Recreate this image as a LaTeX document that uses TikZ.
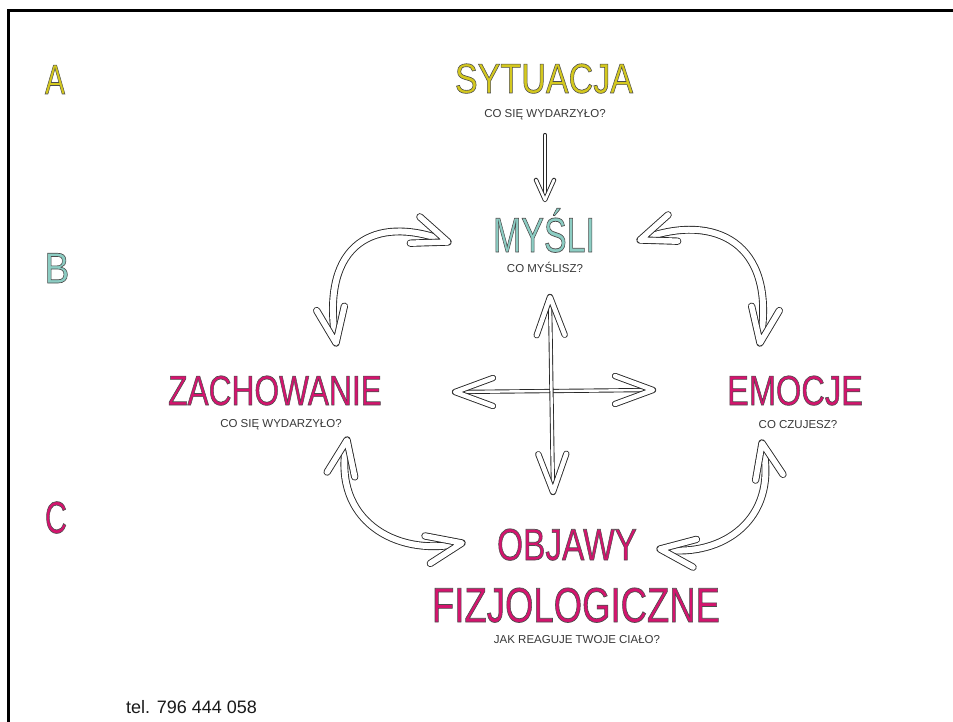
\documentclass[tikz,border=0pt]{standalone}
\usepackage{fontspec}
\setmainfont{Liberation Sans}
\usepackage{graphicx}
\definecolor{cyel}{RGB}{212,200,30}
\definecolor{cteal}{RGB}{140,205,195}
\definecolor{cmag}{RGB}{212,20,110}
\definecolor{cline}{RGB}{40,40,40}
\definecolor{ctext}{RGB}{55,55,55}
\newcommand{\olt}[1]{{\special{pdf:literal direct 0.3 0.3 0.3 RG 0.15 w 2 Tr}#1\special{pdf:literal direct 0 Tr}}}
\tikzset{
  dbl/.style={draw=cline, double=white, line width=0.9pt, line cap=round, line join=round},
  thinshaft/.style={dbl, double distance=2.4pt, shorten >=4pt, shorten <=4pt},
  thickshaft/.style={dbl, double distance=6pt, shorten >=5pt, shorten <=5pt},
  bigt/.style={inner sep=0pt, anchor=base, font=\fontsize{10}{12}\selectfont},
  capt/.style={inner sep=0pt, anchor=base, text=ctext, font=\fontsize{11.5}{13}\selectfont},
  bighead/.pic={\draw[dbl, double distance=5.5pt] (-35pt,14pt) -- (0,0) -- (-35pt,-14pt);},
  crosshead/.pic={\draw[dbl, double distance=4.5pt] (-38pt,14pt) -- (0,0) -- (-38pt,-14pt);},
  smallhead/.pic={\draw[dbl, double distance=2.6pt] (-20pt,9pt) -- (0,0) -- (-20pt,-9pt);}
}
\begin{document}
\begin{tikzpicture}[x=1pt,y=-1pt]
\useasboundingbox (0,0) rectangle (953,722);
% frame
\draw[line width=3pt, black] (8,722) -- (8,10.5) -- (953,10.5);

% letters A B C
\node[bigt, text=cyel] (la) at (55,94) {\scalebox{3.0}[4.19]{\olt{A}}};
\node[bigt, text=cteal] (lb) at (57,283) {\scalebox{3.7}[4.33]{\olt{B}}};
\node[bigt, text=cmag] (lc) at (56,533) {\scalebox{3.05}[4.5]{\olt{C}}};

% main labels
\node[bigt, text=cyel] (sit) at (544,93) {\scalebox{3.41}[4.19]{\olt{SYTUACJA}}};
\node[capt] (sitc) at (545,118) {CO SIĘ WYDARZYŁO?};
\node[bigt, text=cteal] (mys) at (544,252) {\scalebox{3.40}[4.89]{\olt{MYŚLI}}};
\node[capt] (mysc) at (545,272) {CO MYŚLISZ?};
\node[bigt, text=cmag] (zach) at (275,405) {\scalebox{3.17}[4.19]{\olt{ZACHOWANIE}}};
\node[capt] (zachc) at (281,427) {CO SIĘ WYDARZYŁO?};
\node[bigt, text=cmag] (emo) at (795,405) {\scalebox{3.26}[4.19]{\olt{EMOCJE}}};
\node[capt] (emoc) at (798,428) {CO CZUJESZ?};
\node[bigt, text=cmag] (obj) at (567,560) {\scalebox{3.34}[4.47]{\olt{OBJAWY}}};
\node[bigt, text=cmag] (fiz) at (576,622) {\scalebox{3.65}[4.89]{\olt{FIZJOLOGICZNE}}};
\node[capt] (fizc) at (577,643) {JAK REAGUJE TWOJE CIAŁO?};

\node[inner sep=0pt, anchor=base west, font=\fontsize{18}{21}\selectfont, text=black!90] (tel) at (126,713) {tel. 796 444 058};

% coordinates
\coordinate (s1) at (545,135);
\coordinate (s2) at (545,200);
\coordinate (vt) at (550,297);
\coordinate (vb) at (553,492);
\coordinate (hl) at (455,392);
\coordinate (hr) at (653,390);
\coordinate (tlA) at (336,343);
\coordinate (tlB) at (448,242);
\coordinate (trA) at (760,343);
\coordinate (trB) at (640,240);
\coordinate (blA) at (347,440);
\coordinate (blB) at (462,543);
\coordinate (brA) at (762,443);
\coordinate (brB) at (660,549);

% situation -> thoughts
\draw[thinshaft, shorten <=0pt] (s1) -- (s2);
\pic[rotate=-90] at (s2) {smallhead};

% cross
\draw[thinshaft] (hl) -- (hr);
\draw[thinshaft] (vt) -- (vb);
\pic[rotate=180] at (hl) {crosshead};
\pic[rotate=0] at (hr) {crosshead};
\pic[rotate=91] at (vt) {crosshead};
\pic[rotate=-89] at (vb) {crosshead};

% curved arrows
\draw[thickshaft] (tlA) .. controls (321,243) and (375,215) .. (tlB);
\pic[rotate=-20] at (tlB) {bighead};
\pic[rotate=-81] at (tlA) {bighead};

\draw[thickshaft] (trA) .. controls (776,243) and (715,213) .. (trB);
\pic[rotate=200] at (trB) {bighead};
\pic[rotate=-99] at (trA) {bighead};

\draw[thickshaft] (blA) .. controls (333,520) and (395,556) .. (blB);
\pic[rotate=80] at (blA) {bighead};
\pic[rotate=11] at (blB) {bighead};

\draw[thickshaft] (brA) .. controls (778,520) and (722,557) .. (brB);
\pic[rotate=102] at (brA) {bighead};
\pic[rotate=173] at (brB) {bighead};
\end{tikzpicture}
\end{document}
